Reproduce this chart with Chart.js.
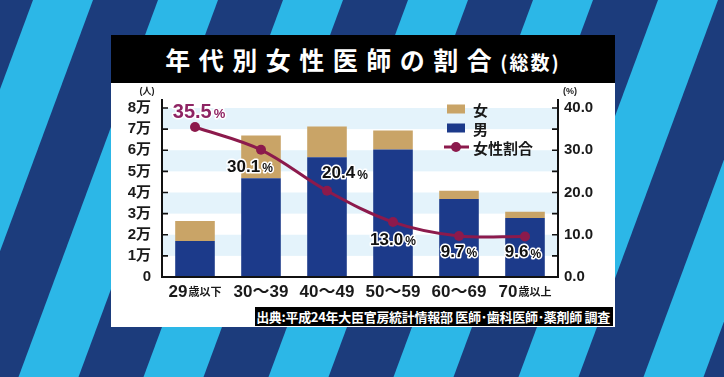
<!DOCTYPE html>
<html>
<head>
<meta charset="utf-8">
<script src="https://cdn.jsdelivr.net/npm/chart.js@4"></script>
<style>
  html, body { margin: 0; padding: 0; }
  body { width: 724px; height: 377px; overflow: hidden; position: relative; background: #1c3c7c; }
  #bg { position: absolute; left: 0; top: 0; }
  #title {
    position: absolute; left: 111px; top: 35px; width: 504px; height: 48px;
    background: #000; color: #fff; text-align: center; line-height: 48px;
    font-family: "Noto Sans CJK JP", sans-serif; font-weight: bold;
    font-size: 25px; letter-spacing: 8.5px; white-space: nowrap;
  }
  #title small { font-size: 19px; letter-spacing: 2px; }
  #panel { position: absolute; left: 111px; top: 83px; width: 504px; height: 244px; background: #fff; }
  #source {
    position: absolute; left: 255px; top: 307px; width: 358px; height: 19px;
    background: #000; color: #fff; text-align: right; line-height: 19px;
    font-family: "Noto Sans CJK JP", sans-serif; font-weight: bold; font-size: 13px;
    padding-right: 3px; box-sizing: border-box; white-space: nowrap; letter-spacing: -0.3px;
  }
</style>
</head>
<body>
<canvas id="bg" width="724" height="377"></canvas>
<div id="title">年代別女性医師の割合<small>(総数)</small></div>
<div id="panel"><canvas id="myChart"></canvas></div>
<div id="source">出典:平成24年大臣官房統計情報部 医師･歯科医師･薬剤師 調査</div>
<script>
var ageGroups = ["29歳以下", "30～39", "40～49", "50～59", "60～69", "70歳以上"];
var male = [17100, 46800, 56700, 60300, 36900, 27900];
var female = [9400, 20200, 14500, 9000, 3950, 2950];
var femaleRatio = [35.5, 30.1, 20.4, 13.0, 9.7, 9.6];
var leftTicks = ["0", "1万", "2万", "3万", "4万", "5万", "6万", "7万", "8万"];
var rightTicks = ["0.0", "10.0", "20.0", "30.0", "40.0"];

var NAVY = "#1c3a8a";
var TAN = "#c9a467";
var WINE = "#8c1a4c";
var FONT = "'Liberation Sans', 'Noto Sans CJK JP', sans-serif";

// striped background
(function () {
  var bg = document.getElementById("bg").getContext("2d");
  bg.fillStyle = "#1c3c7c";
  bg.fillRect(0, 0, 724, 377);
  bg.fillStyle = "#2cb7e7";
  var slope = 0.37;
  for (var x0 = 33 - 125; x0 < 724 + 200; x0 += 125) {
    bg.beginPath();
    bg.moveTo(x0, 0);
    bg.lineTo(x0 + 60, 0);
    bg.lineTo(x0 + 60 - slope * 377, 377);
    bg.lineTo(x0 - slope * 377, 377);
    bg.closePath();
    bg.fill();
  }
})();

// label offsets for the ratio values (style only)
var ratioOffsets = [[4, -15], [-11, 17], [18, -17], [0, 18], [0, 16], [-2, 16]];

var decor = {
  id: "decor",
  beforeDraw: function (chart) {
    var ctx = chart.ctx, ca = chart.chartArea, y = chart.scales.y;
    ctx.save();
    ctx.fillStyle = "#e4f3fb";
    for (var v = 10000; v < 80000; v += 20000) {
      var top = y.getPixelForValue(v + 10000), bot = y.getPixelForValue(v);
      ctx.fillRect(ca.left, top, ca.right - ca.left, bot - top);
    }
    ctx.restore();
  },
  afterDatasetsDraw: function (chart) {
    var ctx = chart.ctx, ca = chart.chartArea;
    var x = chart.scales.x, y = chart.scales.y, y1 = chart.scales.y1;
    ctx.save();

    // axes
    ctx.strokeStyle = "#111";
    ctx.lineWidth = 2;
    ctx.beginPath();
    ctx.moveTo(ca.left, ca.top - 9); ctx.lineTo(ca.left, ca.bottom);
    ctx.lineTo(ca.right, ca.bottom); ctx.lineTo(ca.right, ca.top - 9);
    ctx.stroke();
    ctx.lineWidth = 1.6;
    ctx.beginPath();
    for (var v = 10000; v <= 80000; v += 10000) {
      var py = y.getPixelForValue(v);
      ctx.moveTo(ca.left, py); ctx.lineTo(ca.left + 6, py);
    }
    for (var r = 5; r <= 40; r += 5) {
      var ry = y1.getPixelForValue(r);
      ctx.moveTo(ca.right - 6, ry); ctx.lineTo(ca.right, ry);
    }
    ctx.stroke();

    // units
    ctx.fillStyle = "#222";
    ctx.font = "bold 9px " + FONT;
    ctx.textAlign = "center";
    ctx.textBaseline = "middle";
    ctx.fillText("(人)", ca.left - 15, ca.top - 16);
    ctx.fillText("(%)", ca.right + 12, ca.top - 16);

    // x labels with smaller suffix
    ctx.fillStyle = "#1a1a1a";
    ctx.textBaseline = "alphabetic";
    ageGroups.forEach(function (lab, i) {
      var m = lab.match(/^(\d+)(歳.*)$/);
      var big = m ? m[1] : lab, small = m ? m[2] : "";
      ctx.font = "bold 17px " + FONT;
      var w1 = ctx.measureText(big).width;
      ctx.font = "bold 11px " + FONT;
      var w2 = small ? ctx.measureText(small).width + 1 : 0;
      var sx = x.getPixelForValue(i) - (w1 + w2) / 2;
      ctx.textAlign = "left";
      ctx.font = "bold 17px " + FONT;
      ctx.fillText(big, sx, ca.bottom + 20);
      if (small) {
        ctx.font = "bold 11px " + FONT;
        ctx.fillText(small, sx + w1 + 1, ca.bottom + 19);
      }
    });

    // ratio labels
    var meta = chart.getDatasetMeta(2);
    meta.data.forEach(function (pt, i) {
      var first = i === 0;
      var num = femaleRatio[i].toFixed(1);
      var bigFont = "bold " + (first ? 20 : 17) + "px " + FONT;
      var smFont = "bold " + (first ? 13 : 12) + "px " + FONT;
      ctx.font = bigFont;
      var w1 = ctx.measureText(num).width;
      ctx.font = smFont;
      var w2 = ctx.measureText("%").width + 2;
      var cx = pt.x + ratioOffsets[i][0], cy = pt.y + ratioOffsets[i][1];
      var sx = cx - (w1 + w2) / 2;
      ctx.textAlign = "left";
      ctx.textBaseline = "middle";
      ctx.lineJoin = "round";
      ctx.strokeStyle = "#fff";
      ctx.lineWidth = 3;
      ctx.fillStyle = first ? "#8e2463" : "#111";
      ctx.font = bigFont;
      ctx.strokeText(num, sx, cy);
      ctx.fillText(num, sx, cy);
      ctx.font = smFont;
      ctx.strokeText("%", sx + w1 + 2, cy + 2);
      ctx.fillText("%", sx + w1 + 2, cy + 2);
    });

    // legend
    var lx = ca.right - 111, ly = ca.top;
    var rows = [
      { text: chart.data.datasets[1].label, type: "box", color: TAN, dy: 1 },
      { text: chart.data.datasets[0].label, type: "box", color: NAVY, dy: 20 },
      { text: chart.data.datasets[2].label, type: "line", color: WINE, dy: 39 }
    ];
    rows.forEach(function (row) {
      var cy = ly + row.dy;
      if (row.type === "box") {
        ctx.fillStyle = row.color;
        ctx.fillRect(lx, cy - 4.5, 18, 9);
      } else {
        ctx.strokeStyle = row.color;
        ctx.lineWidth = 3;
        ctx.beginPath();
        ctx.moveTo(lx - 3, cy); ctx.lineTo(lx + 22, cy);
        ctx.stroke();
        ctx.fillStyle = row.color;
        ctx.beginPath();
        ctx.arc(lx + 9, cy, 5, 0, Math.PI * 2);
        ctx.fill();
      }
      ctx.fillStyle = "#1a1a1a";
      ctx.font = "bold 15px 'Noto Sans CJK JP', sans-serif";
      ctx.textAlign = "left";
      ctx.textBaseline = "middle";
      ctx.fillText(row.text, lx + 26, cy + 1);
    });
    ctx.restore();
  }
};

var ctx = document.getElementById("myChart");
var myChart = new Chart(ctx, {
  type: "bar",
  data: {
    labels: ageGroups,
    datasets: [
      {
        label: "男",
        data: male,
        backgroundColor: NAVY,
        yAxisID: "y",
        stack: "people",
        order: 1,
        barPercentage: 0.6,
        categoryPercentage: 1
      },
      {
        label: "女",
        data: female,
        backgroundColor: TAN,
        yAxisID: "y",
        stack: "people",
        order: 1,
        barPercentage: 0.6,
        categoryPercentage: 1
      },
      {
        type: "line",
        label: "女性割合",
        data: femaleRatio,
        yAxisID: "y1",
        borderColor: WINE,
        backgroundColor: WINE,
        borderWidth: 3,
        pointRadius: 5,
        pointBackgroundColor: WINE,
        pointBorderWidth: 0,
        tension: 0.35,
        fill: false,
        order: 0
      }
    ]
  },
  options: {
    responsive: true,
    maintainAspectRatio: false,
    animation: false,
    layout: { padding: { top: 25, left: 0, right: 0, bottom: 0 } },
    plugins: {
      legend: { display: false },
      tooltip: { enabled: false }
    },
    scales: {
      x: {
        stacked: true,
        grid: { display: false, drawTicks: false },
        border: { display: false },
        ticks: { display: false },
        afterFit: function (s) { s.height = 50; }
      },
      y: {
        stacked: true,
        position: "left",
        min: 0,
        max: 80000,
        grid: { display: false, drawTicks: false },
        border: { display: false },
        ticks: {
          stepSize: 10000,
          padding: 11,
          color: "#1a1a1a",
          font: { family: FONT, size: 15, weight: "bold" },
          callback: function (v) { return leftTicks[v / 10000]; }
        },
        afterFit: function (s) { s.width = 51; }
      },
      y1: {
        position: "right",
        min: 0,
        max: 40,
        grid: { display: false, drawTicks: false },
        border: { display: false },
        ticks: {
          stepSize: 10,
          padding: 6,
          color: "#1a1a1a",
          font: { family: FONT, size: 15, weight: "bold" },
          callback: function (v) { return rightTicks[v / 10]; }
        },
        afterFit: function (s) { s.width = 57; }
      }
    }
  },
  plugins: [decor]
});
</script>
</body>
</html>
